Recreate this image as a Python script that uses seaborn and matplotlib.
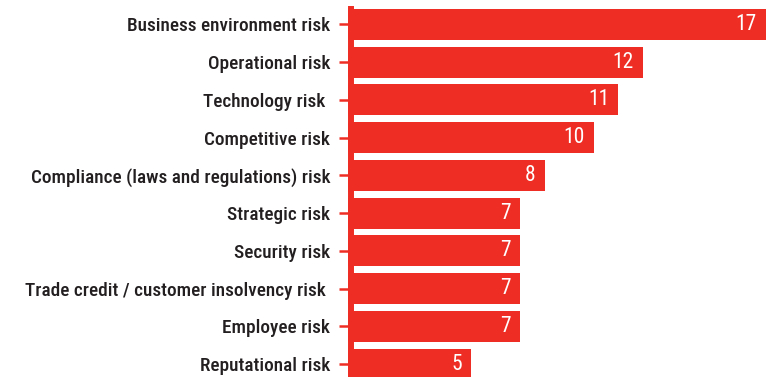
import matplotlib
matplotlib.use("Agg")
import matplotlib.pyplot as plt
import seaborn as sns
import pandas as pd

categories = [
    "Business environment risk",
    "Operational risk",
    "Technology risk ",
    "Competitive risk",
    "Compliance (laws and regulations) risk",
    "Strategic risk",
    "Security risk",
    "Trade credit / customer insolvency risk ",
    "Employee risk",
    "Reputational risk",
]
values = [17, 12, 11, 10, 8, 7, 7, 7, 7, 5]

RED = "#EE2E24"
TEXT = "#231F20"

df = pd.DataFrame({"risk": categories, "share": values})

sns.set_theme(style="white")
plt.rcParams["font.family"] = ["Roboto Condensed", "DejaVu Sans"]

W, H = 769, 377
fig = plt.figure(figsize=(W / 100, H / 100), dpi=100)
left_px, right_px, top_px = 348, 766, 9
ax = fig.add_axes([left_px / W, 0, (right_px - left_px) / W, 1 - top_px / H])

sns.barplot(data=df, x="share", y="risk", orient="h", color=RED,
            saturation=1, width=0.82, ax=ax, edgecolor="none")

ax.set_xlim(0, 17)
ax.set_ylim(9.34, -0.41)
ax.set_xlabel("")
ax.set_ylabel("")
ax.set_xticks([])

for s in ["top", "right", "bottom"]:
    ax.spines[s].set_visible(False)
ax.spines["left"].set_color(RED)
ax.spines["left"].set_linewidth(4.3)
ax.spines["left"].set_position(("data", 0.12))

ax.tick_params(axis="y", left=True, colors=RED, length=8.5, width=1.8, pad=6.5,
               labelcolor=TEXT, labelsize=13.9)
for lbl in ax.get_yticklabels():
    lbl.set_fontweight(500)

for i, v in enumerate(values):
    ax.annotate(str(v), xy=(v, i), xytext=(-9, 0), textcoords="offset pixels",
                ha="right", va="center", color="white", fontsize=15.5)

fig.savefig("out.png", dpi=100)
